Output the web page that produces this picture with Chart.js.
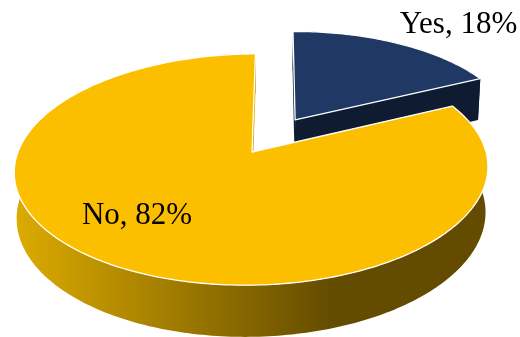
<!DOCTYPE html>
<html>
<head>
<meta charset="utf-8">
<style>
  html, body { margin: 0; padding: 0; background: #fff; }
  canvas { display: block; }
</style>
<script src="https://cdn.jsdelivr.net/npm/chart.js@4/dist/chart.umd.min.js"></script>
</head>
<body>
<canvas id="Chart" width="520" height="337"></canvas>
<script>
const categories = ['Yes', 'No'];
const shares = [18, 82];
const sliceColors = ['#1f3864', '#fcbf00'];
const slicePull = [0.35, 0];
const sliceReach = [0.975, 1];
const labelSpots = [[458.5, 33], [137, 224]];

// perspective of the pie plane, v runs towards the viewer
const centerX = 252, centerY = 152;
const radiusX = 234, radiusY = 113, tilt = 0.1515, skew = 6;
const floorScale = 0.99, floorDrop = 45;

function project(u, v, onFloor) {
    const k = 1 - tilt * v;
    const s = onFloor ? floorScale : 1;
    return [centerX + s * (radiusX * u - skew * v) / k, centerY + (radiusY * s * v + (onFloor ? floorDrop : 0)) / k];
}

function rimPoints(arc, ox, oy, reach, onFloor) {
    const pts = [];
    const steps = Math.ceil((arc.endAngle - arc.startAngle) / (Math.PI / 180));
    for (let i = 0; i <= steps; i++) {
        const a = arc.startAngle + (arc.endAngle - arc.startAngle) * i / steps;
        pts.push(project(ox + reach * Math.cos(a), oy + reach * Math.sin(a), onFloor));
    }
    return pts;
}

function fillPoly(ctx, pts, color) {
    ctx.beginPath();
    pts.forEach((p, i) => i ? ctx.lineTo(p[0], p[1]) : ctx.moveTo(p[0], p[1]));
    ctx.closePath();
    ctx.fillStyle = color;
    ctx.fill();
}

const pie3d = {
    id: 'pie3d',
    beforeDatasetsDraw(chart) {
        const ctx = chart.ctx;
        const arcs = chart.getDatasetMeta(0).data;

        const sideShade = ctx.createLinearGradient(15, 0, 335, 0);
        sideShade.addColorStop(0, '#dcab00');
        sideShade.addColorStop(1, '#634b00');
        const sides = ['#0e1b31', sideShade];
        const cuts = ['#0e1b31', '#dcab00'];

        arcs.forEach((arc, i) => {
            const mid = (arc.startAngle + arc.endAngle) / 2;
            const ox = slicePull[i] * Math.cos(mid);
            const oy = slicePull[i] * Math.sin(mid);
            const top = rimPoints(arc, ox, oy, sliceReach[i], false);
            const floor = rimPoints(arc, ox, oy, sliceReach[i], true);
            const apex = project(ox, oy, false);
            const apexFloor = project(ox, oy, true);

            // outer wall, then both cut faces, then the lid
            fillPoly(ctx, top.concat(floor.slice().reverse()), sides[i]);
            fillPoly(ctx, [apex, top[0], floor[0], apexFloor], cuts[i]);
            fillPoly(ctx, [apex, top[top.length - 1], floor[floor.length - 1], apexFloor], cuts[i]);

            const lid = [apex].concat(top);
            fillPoly(ctx, lid, arc.options.backgroundColor);
            ctx.strokeStyle = arc.options.borderColor;
            ctx.lineWidth = arc.options.borderWidth;
            ctx.lineJoin = 'round';
            ctx.stroke();
        });

        ctx.fillStyle = '#000';
        ctx.font = '31px "Liberation Serif"';
        ctx.textAlign = 'center';
        ctx.textBaseline = 'alphabetic';
        categories.forEach((name, i) => {
            ctx.fillText(name + ', ' + shares[i] + '%', labelSpots[i][0], labelSpots[i][1]);
        });

        // the flat arcs are replaced by the drawing above
        return false;
    }
};

new Chart(document.getElementById('Chart').getContext('2d'), {
    type: 'pie',
    data: {
        labels: categories,
        datasets: [{
            data: shares,
            backgroundColor: sliceColors,
            borderColor: '#ffffff',
            borderWidth: 1.3
        }]
    },
    options: {
        responsive: false,
        animation: false,
        rotation: -0.5,
        plugins: {
            legend: { display: false },
            tooltip: { enabled: false }
        }
    },
    plugins: [pie3d]
});
</script>
</body>
</html>
